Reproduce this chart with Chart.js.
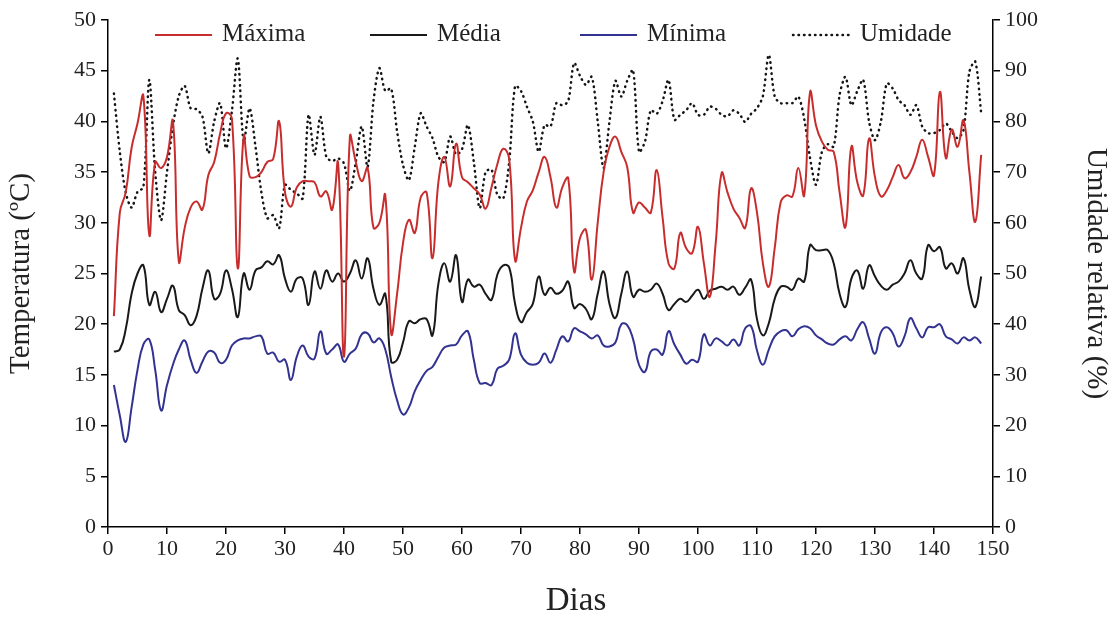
<!DOCTYPE html>
<html>
<head>
<meta charset="utf-8">
<script src="https://cdn.jsdelivr.net/npm/chart.js@4.4.1/dist/chart.umd.min.js"></script>
<style>
  html, body { margin: 0; padding: 0; background: #fff; }
  #wrap { width: 1113px; height: 618px; }
</style>
</head>
<body>
<div id="wrap"><canvas id="grafico"></canvas></div>
<script>
// Dias 1..148
const dias = [];
for (let d = 1; d <= 148; d++) dias.push(d);

// Temperatura máxima (ºC)
const maxima = [20.8, 31, 33, 37.4, 39.8, 42.5, 28.8, 36, 35.4, 36.5,
  40, 26.2, 29.5, 31.5, 32.1, 31.3, 34.7, 36, 38.8, 40.8,
  40.3, 25.5, 38.5, 34.6, 34.5, 35, 36, 36.3, 40, 33,
  31.6, 33.5, 34.1, 34.1, 34, 32.6, 33.1, 31.3, 35.9, 16.8,
  38.5, 36, 34.1, 35.4, 29.5, 30, 32.7, 19.1, 23, 28,
  30.3, 29, 32.5, 33, 26.5, 34, 36.5, 33.6, 37.8, 34.5,
  34, 33.4, 32.8, 31.4, 33.5, 35.8, 37.3, 36.3, 26.3, 29.5,
  32.1, 33.2, 35, 36.5, 34.5, 31.5, 33.5, 34.4, 25.2, 28.5,
  29.3, 24.4, 30, 35, 37.5, 38.5, 37, 35.5, 31, 32,
  31.5, 31, 35.2, 30.5, 26, 25.5, 29, 27.5, 27, 29.6,
  26, 22.7, 28, 34.9, 33, 31.4, 30.5, 29.5, 33.4, 31,
  26, 23.7, 27.5, 32, 32.7, 32.6, 35.4, 32.7, 42.9, 39.6,
  38, 37.2, 37, 33, 29.6, 37.5, 34, 32.7, 38.3, 34.5,
  32.6, 33.2, 34.5, 35.7, 34.4, 35, 36.5, 38.2, 36.5, 34.7,
  42.9, 36.4, 39.2, 37.5, 40.1, 35, 30.1, 36.7];

// Temperatura média (ºC)
const media = [17.3, 17.5, 19.5, 23, 25, 25.8, 21.9, 23.2, 21.2, 22.5,
  23.8, 21.4, 20.9, 19.9, 20.8, 23.5, 25.3, 22.5, 23, 25.3,
  23.5, 20.7, 25, 23.4, 25.3, 25.6, 26.2, 25.9, 26.8, 24.5,
  23.2, 24.5, 24.5, 21.9, 25.2, 23.5, 25.3, 24.2, 25, 24.2,
  25, 26.3, 24.5, 26.5, 23.5, 21.9, 23, 16.3, 16.5, 18.2,
  20.3, 20.1, 20.5, 20.5, 18.9, 24, 26, 24.2, 26.8, 22.2,
  24.4, 23.7, 23.9, 23, 22.4, 24.9, 25.8, 25.6, 22, 20.2,
  21.2, 22, 24.7, 22.9, 23.6, 23, 23.3, 24.2, 21.6, 22,
  21.5, 20.5, 23, 25.2, 22, 20.6, 23, 25.2, 22.7, 23.4,
  23.2, 23.4, 24, 23, 21.4, 22, 22.5, 22.2, 22.8, 23.4,
  22.5, 23.3, 23.5, 23.7, 23.4, 23.7, 22.9, 23.6, 24.4, 20.5,
  18.9, 20.1, 22.5, 23.7, 23.7, 23.4, 24.5, 24.2, 27.8, 27.3,
  27.3, 27.3, 26, 23, 21.7, 24.5, 25.3, 23.5, 25.8, 24.7,
  23.8, 23.4, 23.9, 24.2, 25, 26.3, 25, 24.5, 27.8, 27.2,
  27.6, 25.5, 26, 25, 26.5, 23.4, 21.7, 24.7];

// Temperatura mínima (ºC)
const minima = [14, 11, 8.4, 11.8, 15.5, 18, 18.5, 15.5, 11.5, 14,
  16, 17.5, 18.4, 16.5, 15.2, 16.3, 17.3, 17.2, 16.2, 16.5,
  17.9, 18.4, 18.6, 18.6, 18.8, 18.8, 17.1, 17.2, 16.3, 16.5,
  14.5, 16.8, 17.9, 16.8, 16.6, 19.3, 17.1, 17.5, 18, 16.3,
  17.1, 17.6, 19, 19.1, 18.2, 18.6, 17.5, 14.8, 12.5, 11.1,
  11.8, 13.4, 14.5, 15.4, 15.8, 16.8, 17.7, 17.9, 18, 18.9,
  19.3, 16.5, 14.2, 14.2, 14, 15.6, 15.9, 16.5, 19.1, 17,
  16.2, 16, 16.2, 17.1, 16.2, 17.5, 18.8, 18.3, 19.6, 19.3,
  19, 18.6, 18.9, 17.9, 17.8, 18.2, 20, 19.9, 18.5, 16,
  15.3, 17.3, 17.5, 17, 19.3, 18, 17, 16.1, 16.5, 16.3,
  19, 17.9, 18.6, 18.3, 17.9, 18.5, 17.9, 19.6, 19.8, 17.4,
  16, 17.5, 18.8, 19.3, 19.4, 18.8, 19.5, 19.8, 19.6, 18.9,
  18.5, 18.1, 18, 18.5, 18.8, 18.4, 19.5, 20.2, 18.6, 17.1,
  19.2, 19.7, 19.1, 17.8, 18.8, 20.6, 19.6, 18.7, 19.7, 19.7,
  20, 18.8, 18.5, 18.1, 18.7, 18.4, 18.7, 18.1];

// Umidade relativa (%)
const umidade = [85.5, 74, 66, 63, 66.1, 67, 88.2, 70, 60.5, 70,
  79, 85, 87, 82.6, 82.4, 81, 73.7, 80, 83.6, 74.7,
  82, 92.4, 76, 82.6, 75, 66, 60.9, 61.5, 58.9, 67.5,
  66.5, 65.8, 64.8, 81.3, 73.4, 80.9, 73, 72.2, 72.7, 71.7,
  66.3, 72, 79, 71, 84, 90.5, 86, 86.5, 78, 71.4,
  68.4, 75, 81.6, 79, 76.7, 73, 72, 77, 73.5, 74.5,
  79.3, 72, 62.9, 70, 70.5, 65.5, 64.8, 72, 87, 86,
  82.9, 80, 74, 79.3, 79, 83.6, 83.2, 84, 91.5, 89,
  87.2, 88.8, 80, 70.8, 80, 88, 84.9, 88, 90.1, 74,
  76, 82.2, 81.5, 84, 88.2, 80.3, 81.3, 82.2, 83.6, 81.3,
  81.3, 82.9, 82.5, 81.3, 81, 82.2, 81.5, 79.9, 81.5, 82.6,
  85, 93.1, 84.9, 83.6, 83.6, 83.6, 84.9, 80.5, 72.7, 67.5,
  74, 75.5, 75, 85.2, 88.8, 83.2, 86, 88.2, 79.9, 76.3,
  80, 87.5, 86.5, 84.2, 83.2, 81.3, 83.2, 79, 77.7, 77.7,
  78.3, 79.6, 78, 76.7, 78.3, 89.8, 91.8, 81.6];

const fonte = 'Liberation Serif';
const ctx = document.getElementById('grafico').getContext('2d');

function serie(valores) {
  return valores.map((v, i) => ({ x: dias[i], y: v }));
}

// legenda dentro da área do gráfico e título "Dias" deslocado, como no original
const legendaInterna = {
  id: 'legendaInterna',
  afterDraw(chart) {
    const c = chart.ctx;
    const posX = [155, 370, 580, 793];
    const y = 35;
    c.save();
    c.font = '25px "' + fonte + '"';
    c.textBaseline = 'middle';
    chart.data.datasets.forEach((ds, i) => {
      c.beginPath();
      c.strokeStyle = ds.borderColor;
      c.lineWidth = ds.borderWidth;
      c.lineCap = ds.borderDash ? 'round' : 'butt';
      c.setLineDash(ds.borderDash || []);
      c.moveTo(posX[i], y);
      c.lineTo(posX[i] + 57, y);
      c.stroke();
      c.setLineDash([]);
      c.fillStyle = '#222';
      c.fillText(ds.label, posX[i] + 67, y - 1);
    });
    // título do eixo x
    c.font = '33px "' + fonte + '"';
    c.textAlign = 'center';
    c.fillText('Dias', 576, 601);
    c.restore();
  }
};

new Chart(ctx, {
  type: 'line',
  data: {
    datasets: [{
        label: 'Máxima',
        data: serie(maxima),
        yAxisID: 'y',
        borderColor: 'rgb(200,45,45)',
        borderWidth: 2,
        pointRadius: 0,
        tension: 0.45,
      },
      {
        label: 'Média',
        data: serie(media),
        yAxisID: 'y',
        borderColor: 'rgb(25,25,25)',
        borderWidth: 2,
        pointRadius: 0,
        tension: 0.45,
      },
      {
        label: 'Mínima',
        data: serie(minima),
        yAxisID: 'y',
        borderColor: 'rgb(50,50,145)',
        borderWidth: 2,
        pointRadius: 0,
        tension: 0.45,
      },
      {
        label: 'Umidade',
        data: serie(umidade),
        yAxisID: 'y1',
        borderColor: 'rgb(20,20,20)',
        borderWidth: 2.5,
        borderDash: [0.5, 5],
        borderCapStyle: 'round',
        pointRadius: 0,
        tension: 0.3,
      }
    ]
  },
  options: {
    responsive: true,
    maintainAspectRatio: false,
    animation: false,
    layout: { padding: { top: 20, left: 0, right: 0, bottom: 0 } },
    plugins: {
      legend: { display: false },
      tooltip: { enabled: false }
    },
    scales: {
      x: {
        type: 'linear',
        min: 0,
        max: 150,
        afterFit: s => { s.height = 91; },
        ticks: { stepSize: 10, color: '#222', font: { family: fonte, size: 22 }, padding: 2 },
        grid: { drawOnChartArea: false, drawTicks: true, tickLength: 7, color: '#000', lineWidth: 1.5 },
        border: { display: true, color: '#000', width: 1.5 },
        title: { display: false, text: 'Dias' }
      },
      y: {
        position: 'left',
        min: 0,
        max: 50,
        afterFit: s => { s.width = 108; },
        ticks: { stepSize: 5, color: '#222', font: { family: fonte, size: 22 }, padding: 5 },
        grid: { drawOnChartArea: false, drawTicks: true, tickLength: 7, color: '#000', lineWidth: 1.5 },
        border: { display: true, color: '#000', width: 1.5 },
        title: { display: true, text: 'Temperatura (ºC)', color: '#222', font: { family: fonte, size: 29, lineHeight: 1 }, padding: { top: 7, bottom: 0 } }
      },
      y1: {
        position: 'right',
        min: 0,
        max: 100,
        afterFit: s => { s.width = 120; },
        ticks: { stepSize: 10, color: '#222', font: { family: fonte, size: 22 }, padding: 5 },
        grid: { drawOnChartArea: false, drawTicks: true, tickLength: 7, color: '#000', lineWidth: 1.5 },
        border: { display: true, color: '#000', width: 1.5 },
        title: { display: true, text: 'Umidade relativa (%)', color: '#222', font: { family: fonte, size: 29, lineHeight: 1 }, padding: { top: 3, bottom: 0 } }
      }
    }
  },
  plugins: [legendaInterna]
});
</script>
</body>
</html>
